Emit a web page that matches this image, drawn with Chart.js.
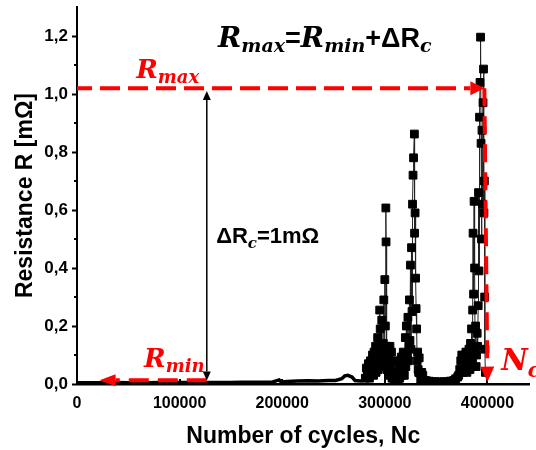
<!DOCTYPE html>
<html>
<head>
<meta charset="utf-8">
<script src="https://cdn.jsdelivr.net/npm/chart.js@4.4.1/dist/chart.umd.min.js"></script>
<style>
  html, body { margin: 0; padding: 0; background: #fff; }
  #chart { display: block; }
</style>
</head>
<body>
<canvas id="chart" width="536" height="450"></canvas>
<script>
// =========================
// DATA
// =========================
// near-zero stretch before the first failure peaks (drawn as a plain thick line)
const baseCycles = [0, 10000, 20000, 30000, 40000, 50000, 60000, 70000, 80000, 90000,
  100000, 110000, 120000, 130000, 140000, 150000, 160000, 170000, 180000, 190000,
  197000, 199000, 205000, 215000, 225000, 235000, 245000, 252000, 258000, 261000,
  264000, 268000, 271000, 276000, 281000];
const baseR = [0.004, 0.004, 0.004, 0.004, 0.005, 0.004, 0.005, 0.004, 0.005, 0.005,
  0.005, 0.005, 0.005, 0.005, 0.005, 0.005, 0.006, 0.006, 0.006, 0.006,
  0.014, 0.007, 0.009, 0.010, 0.011, 0.010, 0.012, 0.012, 0.018, 0.028,
  0.030, 0.024, 0.012, 0.010, 0.014];

// first peak
const peak1Cycles = [281000, 282000, 283000, 284000, 285000, 286000, 287000, 288000, 289000, 289500,
  290000, 291000, 291500, 292000, 293000, 293500, 294000, 295000, 295500, 296000,
  296500, 297000, 298000, 298500, 299000, 299500, 300000, 300500, 301000, 301200,
  301500, 302000, 302500, 303000, 303500, 304000, 305000, 305500, 306000, 306500,
  307000, 308000, 309000, 310000, 311000, 312000];
const peak1R = [0.020, 0.055, 0.030, 0.070, 0.020, 0.080, 0.040, 0.100, 0.030, 0.110,
  0.060, 0.130, 0.040, 0.090, 0.160, 0.050, 0.110, 0.255, 0.190, 0.120,
  0.060, 0.220, 0.080, 0.140, 0.290, 0.100, 0.360, 0.200, 0.607, 0.490,
  0.130, 0.050, 0.120, 0.100, 0.030, 0.090, 0.130, 0.040, 0.065, 0.110,
  0.020, 0.080, 0.010, 0.040, 0.015, 0.030];

// second peak
const peak2Cycles = [313000, 314000, 314500, 315000, 316000, 316500, 317000, 318000, 318500, 319000,
  320000, 320500, 321000, 321500, 322000, 322500, 323000, 323500, 324000, 324500,
  325000, 325500, 326000, 326500, 327000, 327500, 328000, 328800, 329000, 329500,
  330000, 330500, 331000, 331500, 332000, 332500, 333000, 333500, 334000, 335000,
  336000, 337000, 339000];
const peak2R = [0.010, 0.060, 0.020, 0.080, 0.093, 0.030, 0.040, 0.110, 0.050, 0.030,
  0.160, 0.060, 0.200, 0.090, 0.100, 0.230, 0.080, 0.130, 0.290, 0.150,
  0.410, 0.120, 0.470, 0.250, 0.620, 0.720, 0.780, 0.862, 0.520, 0.590,
  0.365, 0.260, 0.190, 0.080, 0.110, 0.050, 0.040, 0.090, 0.038, 0.015,
  0.040, 0.030, 0.010];

// quiet stretch between second and third peak
const gapCycles = [340000, 343000, 346000, 349000, 352000, 355000, 358000, 361000, 364000, 367000,
  369000, 371000];
const gapR = [0.012, 0.010, 0.008, 0.008, 0.007, 0.007, 0.008, 0.008, 0.010, 0.012,
  0.018, 0.024];

// third peak, up to failure
const peak3Cycles = [372000, 373000, 374000, 375000, 376000, 377000, 378000, 379000, 380000, 381000,
  382000, 382500, 383000, 383500, 384000, 384500, 385000, 385600, 386000, 386500,
  387000, 387500, 388000, 388500, 389000, 389400, 390000, 390400, 391000, 391300,
  391800, 392300, 392800, 393300, 393800, 394200, 394700, 395200, 395700, 396200,
  396600, 397000, 397300, 397600, 398000];
const peak3R = [0.030, 0.050, 0.080, 0.100, 0.040, 0.050, 0.090, 0.110, 0.040, 0.070,
  0.120, 0.093, 0.050, 0.140, 0.080, 0.190, 0.080, 0.255, 0.520, 0.310,
  0.630, 0.400, 0.120, 0.200, 0.060, 0.100, 0.175, 0.130, 0.270, 0.660,
  0.390, 0.920, 1.040, 1.196, 0.830, 0.500, 0.875, 0.620, 0.970, 1.086,
  0.590, 0.700, 0.300, 0.120, 0.040];

// annotation anchors (data units)
const rMax = 1.02;
const rMin = 0.013;
const nCycles = 400000;
const deltaArrowX = 126500;

// tick labels
const xTicks = [0, 100000, 200000, 300000, 400000];
const yTicks = [0, 0.2, 0.4, 0.6, 0.8, 1.0, 1.2];
const yMinorTicks = [0.1, 0.3, 0.5, 0.7, 0.9, 1.1];

// =========================
// HELPERS
// =========================
const RED = '#ff0000';
const MATH = "'DejaVu Serif'";
const SANS = "'Liberation Sans'";

function toPoints(cycles, values) {
  return cycles.map((c, i) => ({ x: c, y: values[i] }));
}

function arrow(ctx, x1, y1, x2, y2, o) {
  const ang = Math.atan2(y2 - y1, x2 - x1);
  const bx = x2 - Math.cos(ang) * o.head;
  const by = y2 - Math.sin(ang) * o.head;
  ctx.save();
  ctx.strokeStyle = o.color;
  ctx.fillStyle = o.color;
  ctx.lineWidth = o.width;
  ctx.setLineDash(o.dash || []);
  ctx.lineDashOffset = o.dashOffset || 0;
  ctx.beginPath();
  ctx.moveTo(x1, y1);
  ctx.lineTo(bx, by);
  ctx.stroke();
  ctx.setLineDash([]);
  ctx.beginPath();
  ctx.moveTo(x2, y2);
  ctx.lineTo(bx + Math.sin(ang) * o.half, by - Math.cos(ang) * o.half);
  ctx.lineTo(bx - Math.sin(ang) * o.half, by + Math.cos(ang) * o.half);
  ctx.closePath();
  ctx.fill();
  ctx.restore();
}

function runs(ctx, x, y, parts) {
  ctx.save();
  ctx.textBaseline = 'alphabetic';
  ctx.textAlign = 'left';
  parts.forEach(p => {
    ctx.font = p.font;
    ctx.fillStyle = p.color || '#000';
    ctx.fillText(p.text, x, y + (p.dy || 0));
    x += ctx.measureText(p.text).width;
  });
  ctx.restore();
}

// =========================
// ANNOTATIONS PLUGIN
// =========================
const annotations = {
  id: 'annotations',
  beforeDatasetsDraw(chart) {
    const { ctx, scales: { x, y } } = chart;
    ctx.save();
    ctx.strokeStyle = '#000';
    ctx.lineWidth = 2;
    // minor y ticks (outward)
    yMinorTicks.forEach(v => {
      const py = Math.round(y.getPixelForValue(v));
      ctx.beginPath();
      ctx.moveTo(x.left - 3, py);
      ctx.lineTo(x.left, py);
      ctx.stroke();
    });
    // x ticks point inward
    xTicks.forEach(v => {
      const px = Math.round(x.getPixelForValue(v));
      ctx.beginPath();
      ctx.moveTo(px, y.bottom);
      ctx.lineTo(px, y.bottom - 5);
      ctx.stroke();
    });
    ctx.restore();
  },
  afterDatasetsDraw(chart) {
    const { ctx, scales: { x, y } } = chart;
    const X = v => x.getPixelForValue(v);
    const Y = v => y.getPixelForValue(v);

    // R_max level -> N_c
    arrow(ctx, X(0), Y(rMax), X(397000), Y(rMax),
      { color: RED, width: 4, dash: [20, 8], dashOffset: 5, head: 14, half: 7 });
    arrow(ctx, X(397000), Y(rMax), X(nCycles), Y(0.008),
      { color: RED, width: 4, dash: [18, 10], head: 15, half: 7 });
    // R_min arrow
    arrow(ctx, X(deltaArrowX), Y(rMin), X(22000), Y(rMin),
      { color: RED, width: 4, dash: [20, 9], head: 16, half: 6 });
    // delta R double arrow
    arrow(ctx, X(deltaArrowX), Y(0.5), X(deltaArrowX), Y(1.01),
      { color: '#000', width: 1.5, head: 9, half: 4 });
    arrow(ctx, X(deltaArrowX), Y(0.5), X(deltaArrowX), Y(0.012),
      { color: '#000', width: 1.5, head: 9, half: 4 });

    const big = `bold italic 26px ${MATH}`;
    const sub = `bold italic 18px ${MATH}`;

    runs(ctx, X(137500), Y(1.162), [
      { text: 'R', font: `bold italic 28px ${MATH}` },
      { text: 'max', font: `bold italic 19px ${MATH}`, dy: 5 },
      { text: '=', font: `bold 27px ${SANS}` },
      { text: 'R', font: `bold italic 28px ${MATH}` },
      { text: 'min', font: `bold italic 19px ${MATH}`, dy: 5 },
      { text: '+ΔR', font: `bold 27px ${SANS}` },
      { text: 'c', font: `bold italic 19px ${MATH}`, dy: 5 }
    ]);
    runs(ctx, X(57700), Y(1.055), [
      { text: 'R', font: big, color: RED },
      { text: 'max', font: sub, color: RED, dy: 5 }
    ]);
    runs(ctx, X(65400), Y(0.059), [
      { text: 'R', font: big, color: RED },
      { text: 'min', font: sub, color: RED, dy: 5 }
    ]);
    runs(ctx, X(413500), Y(0.048), [
      { text: 'N', font: `bold italic 29px ${MATH}`, color: RED },
      { text: 'c', font: `bold italic 20px ${MATH}`, color: RED, dy: 7 }
    ]);
    runs(ctx, X(135600), Y(0.486), [
      { text: 'ΔR', font: `bold 22px ${SANS}` },
      { text: 'c', font: `bold italic 15px ${MATH}`, dy: 5 },
      { text: '=1mΩ', font: `bold 22px ${SANS}` }
    ]);
  }
};

// =========================
// CHART
// =========================
const ctx = document.getElementById('chart').getContext('2d');

const markerData = [
  ...toPoints(peak1Cycles, peak1R),
  ...toPoints(peak2Cycles, peak2R),
  ...toPoints(gapCycles, gapR),
  ...toPoints(peak3Cycles, peak3R)
];

new Chart(ctx, {
  type: 'scatter',
  data: {
    datasets: [
      {
        label: 'baseline',
        data: toPoints(baseCycles, baseR),
        showLine: true,
        borderColor: '#000',
        borderWidth: 3.5,
        pointRadius: 0
      },
      {
        label: 'R',
        data: markerData,
        showLine: true,
        borderColor: '#222',
        borderWidth: 1,
        pointStyle: 'rect',
        pointRadius: 5.5,
        pointBorderWidth: 1,
        pointBackgroundColor: '#000',
        pointBorderColor: '#000'
      }
    ]
  },
  options: {
    responsive: false,
    animation: false,
    devicePixelRatio: 1,
    layout: { padding: { top: 7, right: 0, left: 0, bottom: 0 } },
    plugins: { legend: { display: false }, tooltip: { enabled: false } },
    scales: {
      x: {
        type: 'linear',
        min: 0,
        max: 441000,
        afterBuildTicks: s => { s.ticks = xTicks.map(v => ({ value: v })); },
        afterFit: s => { s.height = 66; s.paddingLeft = 0; s.paddingRight = 0; },
        border: { display: true, color: '#000', width: 2.5 },
        grid: { drawOnChartArea: false, drawTicks: false },
        ticks: {
          maxRotation: 0,
          autoSkip: false,
          padding: 10,
          color: '#000',
          font: { family: 'Liberation Sans', size: 16, weight: 'bold' },
          callback: v => String(v)
        },
        title: {
          display: true,
          text: 'Number of cycles, Nc',
          color: '#000',
          font: { family: 'Liberation Sans', size: 23, weight: 'bold' },
          padding: { top: 0, bottom: 0 }
        }
      },
      y: {
        type: 'linear',
        min: 0,
        max: 1.3,
        afterBuildTicks: s => { s.ticks = yTicks.map(v => ({ value: v })); },
        afterFit: s => { s.width = 77; s.paddingTop = 0; s.paddingBottom = 0; },
        border: { display: true, color: '#000', width: 2 },
        grid: { drawOnChartArea: false, drawTicks: true, tickLength: 5, tickWidth: 2, tickColor: '#000' },
        ticks: {
          autoSkip: false,
          padding: 4,
          color: '#000',
          font: { family: 'Liberation Sans', size: 17, weight: 'bold' },
          callback: v => v.toFixed(1).replace('.', ',')
        },
        title: {
          display: true,
          text: 'Resistance R [mΩ]',
          color: '#000',
          font: { family: 'Liberation Sans', size: 23, weight: 'bold' },
          padding: { top: 12, bottom: 0 }
        }
      }
    }
  },
  plugins: [annotations]
});
</script>
</body>
</html>
